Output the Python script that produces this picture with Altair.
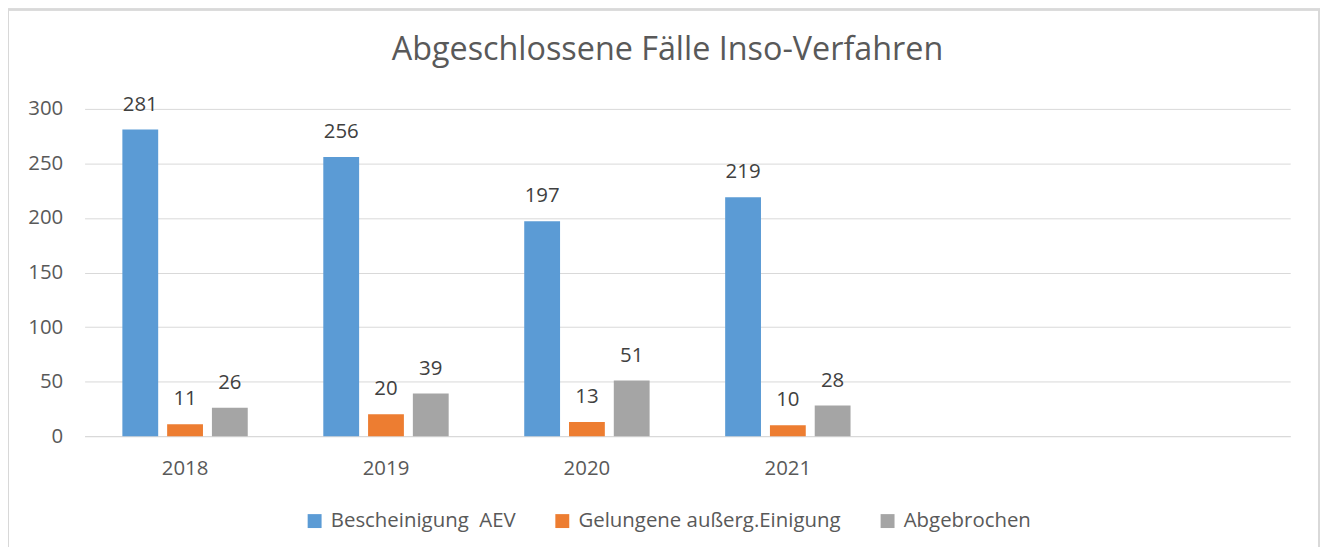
import altair as alt
import pandas as pd

years = ["2018", "2019", "2020", "2021"]
empty_slots = [" ", "  "]
series = ["Bescheinigung \u00a0AEV", "Gelungene außerg.Einigung", "Abgebrochen"]
bescheinigung = [281, 256, 197, 219]
gelungene = [11, 20, 13, 10]
abgebrochen = [26, 39, 51, 28]
colors = ["#5B9BD5", "#ED7D31", "#A5A5A5"]

rows = []
for i, y in enumerate(years):
    for s, vals in zip(series, [bescheinigung, gelungene, abgebrochen]):
        rows.append({"Jahr": y, "Serie": s, "Wert": vals[i]})
df = pd.DataFrame(rows)

FONT = "Open Sans"

x_enc = alt.X("Jahr:N", sort=years + empty_slots,
              scale=alt.Scale(domain=years + empty_slots, paddingInner=0.376, paddingOuter=0.188),
              axis=alt.Axis(title=None, labelAngle=0, ticks=False, domain=True, domainColor="#D9D9D9",
                            grid=False, labelFontSize=20.5, labelColor="#595959", labelPadding=23,
                            labelFont=FONT))
y_enc = alt.Y("Wert:Q", scale=alt.Scale(domain=[0, 300]),
              axis=alt.Axis(title=None, values=[0, 50, 100, 150, 200, 250, 300], ticks=False, domain=False,
                            grid=True, gridColor="#D9D9D9", labelFontSize=20.5, labelColor="#595959",
                            labelPadding=22, labelFont=FONT))
xoff = alt.XOffset("Serie:N", sort=series, scale=alt.Scale(paddingInner=0.2, paddingOuter=0))

bars = alt.Chart(df).mark_bar().encode(
    x=x_enc, y=y_enc, xOffset=xoff,
    color=alt.Color("Serie:N", sort=series, scale=alt.Scale(domain=series, range=colors),
                    legend=alt.Legend(title=None, orient="none", direction="horizontal",
                                      legendX=221, legendY=404, symbolType="square", symbolSize=196,
                                      labelFontSize=20.5, labelColor="#595959", labelFont=FONT,
                                      labelLimit=400, labelOffset=6,
                                      columnPadding=36, symbolStrokeWidth=0))
)

labels = alt.Chart(df).mark_text(baseline="middle", dy=-25, fontSize=20.5, color="#404040", font=FONT).encode(
    x=x_enc, y=y_enc, xOffset=xoff, text="Wert:Q"
)

frame = alt.Chart(df).mark_rect(fill=None, stroke="#D9D9D9", strokeWidth=1.5, clip=False).encode(
    x=alt.value(-77), x2=alt.value(1241), y=alt.value(-100), y2=alt.value(460)
)

chart = alt.layer(bars, labels, frame).properties(
    width=1212, height=329,
    title=alt.TitleParams("Abgeschlossene Fälle Inso-Verfahren", fontSize=32.5, font=FONT,
                          fontWeight="normal", color="#595959", anchor="middle", frame="group",
                          dx=-20, offset=-84, baseline="alphabetic"),
    autosize=alt.AutoSizeParams(type="none"),
    padding={"left": 77, "top": 100, "right": 34, "bottom": 110},
).configure_view(stroke=None)

chart.save("out.html", embed_options={"renderer": "svg", "actions": False})
